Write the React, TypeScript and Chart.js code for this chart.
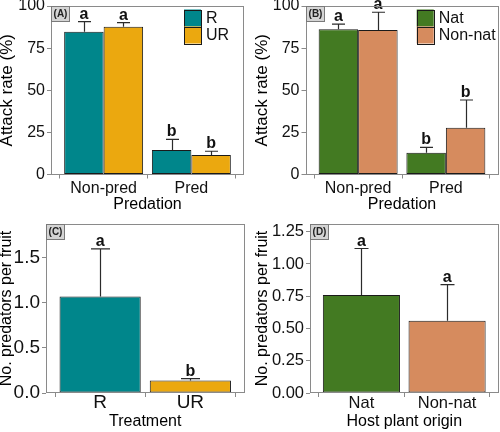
import React, { useEffect, useRef } from "react";
import { Chart, registerables } from "chart.js";

Chart.register(...registerables);

// ---------- data ----------
const predationCats = ["Non-pred", "Pred"];
const treatmentCats = ["R", "UR"];
const originCats = ["Nat", "Non-nat"];

// Panel A: attack rate by predation x treatment
const attackR = [84.7, 14.5];
const attackRse = [6.0, 6.4];
const attackRletters = ["a", "b"];
const attackUR = [87.7, 11.6];
const attackURse = [2.4, 2.2];
const attackURletters = ["a", "b"];

// Panel B: attack rate by predation x host origin
const attackNat = [86.2, 12.9];
const attackNatSe = [3.1, 3.2];
const attackNatLetters = ["a", "b"];
const attackNonNat = [85.8, 27.8];
const attackNonNatSe = [10.5, 16.4];
const attackNonNatLetters = ["a", "b"];

// Panel C: predators per fruit by treatment
const predTreat = [1.07, 0.14];
const predTreatSe = [0.53, 0.02];
const predTreatLetters = ["a", "b"];

// Panel D: predators per fruit by host plant origin
const predOrigin = [0.76, 0.56];
const predOriginSe = [0.36, 0.28];
const predOriginLetters = ["a", "a"];

// tick values
const attackTicks = [0, 25, 50, 75, 100];
const predTreatTicks = [0, 0.5, 1.0, 1.5];
const predOriginTicks = [0, 0.25, 0.5, 0.75, 1.0, 1.25];

// ---------- styling ----------
const TEAL = "#00868B";
const ORANGE = "#EBA80F";
const GREEN = "#437A22";
const SALMON = "#D68B5E";
const FONT = "'Liberation Sans', Arial, Helvetica, sans-serif";
const TEXT = "#111111";
const FRAME = "#8a8a8a";
const BAR_EDGE = "#1a1a1a";
const QW = 250;
const QH = 216;

type Series = {
  label: string;
  values: number[];
  se: number[];
  letters: string[];
  colors: string | string[];
};

type Panel = {
  tag: string;
  qx: number;
  qy: number;
  area: { l: number; r: number; t: number; b: number };
  cats: string[];
  series: Series[];
  yMax: number;
  yTicks: number[];
  decimals: number;
  yTitle: string;
  xTitle: string;
  legend: null | { x: number; y: number };
  cap: number;
  tickFont: number;
  yTitleFont: number;
  yTitleMid: number;
  xTickBaseline: number;
  xTitlePad: number;
};

const panels: Panel[] = [
  {
    tag: "(A)",
    qx: 0,
    qy: 0,
    area: { l: 51, r: 244, t: 6, b: 174.5 },
    cats: predationCats,
    series: [
      { label: "R", values: attackR, se: attackRse, letters: attackRletters, colors: TEAL },
      { label: "UR", values: attackUR, se: attackURse, letters: attackURletters, colors: ORANGE },
    ],
    yMax: 100,
    yTicks: attackTicks,
    decimals: 0,
    yTitle: "Attack rate (%)",
    xTitle: "Predation",
    legend: { x: 184, y: 9.5 },
    cap: 13,
    tickFont: 16,
    yTitleFont: 17,
    yTitleMid: 7,
    xTickBaseline: 194.3,
    xTitlePad: 3.5,
  },
  {
    tag: "(B)",
    qx: 250,
    qy: 0,
    area: { l: 305.5, r: 498.5, t: 6, b: 174.5 },
    cats: predationCats,
    series: [
      { label: "Nat", values: attackNat, se: attackNatSe, letters: attackNatLetters, colors: GREEN },
      { label: "Non-nat", values: attackNonNat, se: attackNonNatSe, letters: attackNonNatLetters, colors: SALMON },
    ],
    yMax: 100,
    yTicks: attackTicks,
    decimals: 0,
    yTitle: "Attack rate (%)",
    xTitle: "Predation",
    legend: { x: 416.7, y: 9.5 },
    cap: 13,
    tickFont: 16,
    yTitleFont: 17,
    yTitleMid: 12,
    xTickBaseline: 194.3,
    xTitlePad: 3.5,
  },
  {
    tag: "(C)",
    qx: 0,
    qy: 216,
    area: { l: 46, r: 244.5, t: 224, b: 393 },
    cats: treatmentCats,
    series: [
      { label: "Treatment", values: predTreat, se: predTreatSe, letters: predTreatLetters, colors: [TEAL, ORANGE] },
    ],
    yMax: 1.875,
    yTicks: predTreatTicks,
    decimals: 1,
    yTitle: "No. predators per fruit",
    xTitle: "Treatment",
    legend: null,
    cap: 19,
    tickFont: 19,
    yTitleFont: 16,
    yTitleMid: 7,
    xTickBaseline: 409.3,
    xTitlePad: 2.5,
  },
  {
    tag: "(D)",
    qx: 250,
    qy: 216,
    area: { l: 310, r: 498.5, t: 224, b: 393 },
    cats: originCats,
    series: [
      { label: "Origin", values: predOrigin, se: predOriginSe, letters: predOriginLetters, colors: [GREEN, SALMON] },
    ],
    yMax: 1.31,
    yTicks: predOriginTicks,
    decimals: 2,
    yTitle: "No. predators per fruit",
    xTitle: "Host plant origin",
    legend: null,
    cap: 14,
    tickFont: 16.5,
    yTitleFont: 16,
    yTitleMid: 13,
    xTickBaseline: 409.3,
    xTitlePad: 2.5,
  },
];

// ---------- plugin: error bars, letters, frame, tag, legend ----------
const panelPlugin = {
  id: "panelDecor",
  afterDatasetsDraw(chart: any, _args: any, opts: any) {
    const p: Panel = opts.panel;
    const ctx: CanvasRenderingContext2D = chart.ctx;
    const ys = chart.scales.y;
    const ca = chart.chartArea;
    ctx.save();

    // error bars + letters
    p.series.forEach((s, i) => {
      const meta = chart.getDatasetMeta(i);
      meta.data.forEach((bar: any, j: number) => {
        const x = Math.round(bar.x) + 0.5;
        const yBar = ys.getPixelForValue(s.values[j]);
        const yTop = ys.getPixelForValue(s.values[j] + s.se[j]);
        ctx.strokeStyle = "#2b2b2b";
        ctx.lineWidth = 1.2;
        ctx.beginPath();
        ctx.moveTo(x, yBar);
        ctx.lineTo(x, yTop);
        ctx.moveTo(x - p.cap / 2, yTop);
        ctx.lineTo(x + p.cap / 2, yTop);
        ctx.stroke();
        ctx.fillStyle = TEXT;
        ctx.font = `bold 16px ${FONT}`;
        ctx.textAlign = "center";
        ctx.textBaseline = "alphabetic";
        ctx.fillText(s.letters[j], bar.x, yTop - 3);
      });
    });

    // frame
    ctx.strokeStyle = FRAME;
    ctx.lineWidth = 1;
    ctx.strokeRect(
      Math.round(ca.left) + 0.5,
      Math.round(ca.top) + 0.5,
      Math.round(ca.right) - Math.round(ca.left) - 1,
      Math.round(ca.bottom) - Math.round(ca.top) - 1
    );

    // tag box
    const bx = Math.round(ca.left) + 0.5;
    const by = Math.round(ca.top) + 0.5;
    ctx.fillStyle = "#d4d4d4";
    ctx.fillRect(bx, by, 18, 15);
    ctx.strokeStyle = "#7a7a7a";
    ctx.strokeRect(bx, by, 18, 15);
    ctx.fillStyle = "#222";
    ctx.font = `bold 10px ${FONT}`;
    ctx.textAlign = "center";
    ctx.textBaseline = "middle";
    ctx.fillText(p.tag, bx + 9, by + 8);

    // legend
    if (p.legend) {
      const key = 17;
      const lx = p.legend.x - p.qx;
      const ly = p.legend.y - p.qy;
      p.series.forEach((s, i) => {
        const y = ly + i * key;
        ctx.fillStyle = s.colors as string;
        ctx.fillRect(lx, y, key, key);
        ctx.strokeStyle = BAR_EDGE;
        ctx.lineWidth = 1;
        ctx.strokeRect(Math.round(lx) + 0.5, Math.round(y) + 0.5, key, key);
        ctx.fillStyle = TEXT;
        ctx.font = `16px ${FONT}`;
        ctx.textAlign = "left";
        ctx.textBaseline = "middle";
        ctx.fillText(s.label, lx + key + 5, y + key / 2 + 1);
      });
    }
    ctx.restore();
  },
};

function PanelChart({ p }: { p: Panel }) {
  const ref = useRef<HTMLCanvasElement | null>(null);
  useEffect(() => {
    if (!ref.current) return;
    const aL = p.area.l - p.qx;
    const aR = p.area.r - p.qx;
    const aT = p.area.t - p.qy;
    const aB = p.area.b - p.qy;
    const tickLen = 4;
    // x tick labels: middle baseline at top + tickLen + pad + lineHeight/2
    const lh = p.tickFont * 1.2;
    const xTickPad = p.xTickBaseline - p.area.b - tickLen - lh / 2 - 0.3465 * p.tickFont;
    const gridOpts = {
      display: true,
      drawOnChartArea: false,
      drawTicks: true,
      tickLength: tickLen,
      color: FRAME,
      lineWidth: 1,
    };
    const chart = new Chart(ref.current, {
      type: "bar",
      data: {
        datasets: p.series.map((s) => ({
          label: s.label,
          data: s.values.map((v, i) => ({ x: i + 1, y: v })),
          backgroundColor: s.colors,
          borderColor: BAR_EDGE,
          borderWidth: 1,
          borderSkipped: false,
          categoryPercentage: 0.9,
          barPercentage: 1,
        })),
      },
      options: {
        animation: false,
        responsive: false,
        devicePixelRatio: 1,
        layout: { padding: { left: 0, top: aT, right: QW - aR, bottom: 0 } },
        plugins: {
          legend: { display: false },
          tooltip: { enabled: false },
          panelDecor: { panel: p },
        } as any,
        scales: {
          x: {
            type: "linear",
            bounds: "data",
            min: 0.4,
            max: p.cats.length + 0.6,
            offset: false,
            afterBuildTicks: (s: any) => {
              s.ticks = p.cats.map((_, i) => ({ value: i + 1 }));
            },
            afterFit: (s: any) => {
              s.height = QH - aB;
              s.paddingLeft = 0;
              s.paddingRight = 0;
            },
            ticks: {
              callback: (v: any) => p.cats[Math.round(Number(v)) - 1] ?? "",
              color: TEXT,
              font: { size: p.tickFont, family: FONT, lineHeight: 1.2 },
              padding: xTickPad,
              maxRotation: 0,
              autoSkip: false,
            },
            grid: gridOpts,
            border: { display: false },
            title: {
              display: true,
              text: p.xTitle,
              color: "#000",
              font: { size: 16, family: FONT, lineHeight: 1 },
              padding: { top: 0, bottom: p.xTitlePad },
            },
          },
          y: {
            type: "linear",
            bounds: "data",
            min: 0,
            max: p.yMax,
            afterBuildTicks: (s: any) => {
              s.ticks = p.yTicks.map((v) => ({ value: v }));
            },
            afterFit: (s: any) => {
              s.width = aL;
              s.paddingTop = 0;
              s.paddingBottom = 0;
            },
            ticks: {
              callback: (v: any) => Number(v).toFixed(p.decimals),
              color: TEXT,
              font: { size: p.tickFont, family: FONT },
              padding: 2,
            },
            grid: gridOpts,
            border: { display: false },
            title: {
              display: true,
              text: p.yTitle,
              color: "#000",
              font: { size: p.yTitleFont, family: FONT, lineHeight: 1 },
              padding: { top: p.yTitleMid - p.yTitleFont / 2, bottom: 0 },
            },
          },
        },
      } as any,
      plugins: [panelPlugin],
    });
    return () => chart.destroy();
  }, [p]);
  return (
    <div style={{ position: "absolute", left: p.qx, top: p.qy, width: QW, height: QH }}>
      <canvas ref={ref} width={QW} height={QH} style={{ display: "block", width: QW, height: QH }} />
    </div>
  );
}

export default function App() {
  return (
    <div
      style={{
        position: "absolute",
        left: 0,
        top: 0,
        width: 500,
        height: 432,
        background: "#ffffff",
        overflow: "hidden",
      }}
    >
      {panels.map((p) => (
        <PanelChart key={p.tag} p={p} />
      ))}
    </div>
  );
}
